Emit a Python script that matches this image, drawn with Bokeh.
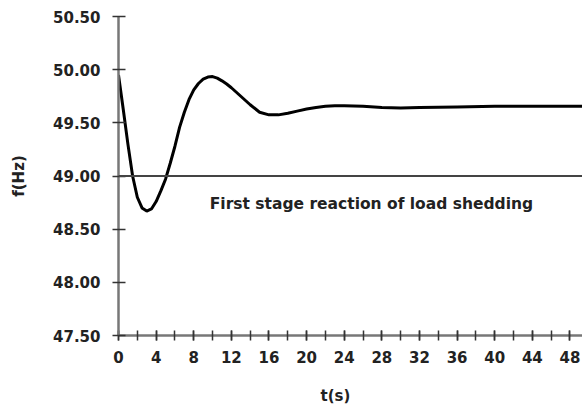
from bokeh.plotting import figure
from bokeh.models import Range1d, FixedTicker, Span, CustomJSTickFormatter, Title
from bokeh.core.properties import value
from bokeh.embed import file_html
from bokeh.resources import INLINE

# Data
t_s = [0, 0.5, 1, 1.5, 2, 2.5, 3, 3.5, 4, 4.5, 5, 5.5, 6, 6.5, 7, 7.5, 8, 8.5,
       9, 9.5, 10, 10.5, 11, 11.5, 12, 13, 14, 15, 16, 17, 18, 19, 20, 21, 22,
       23, 24, 26, 28, 30, 32, 36, 40, 44, 48, 50]
f_hz = [49.95, 49.63, 49.30, 49.00, 48.80, 48.70, 48.67, 48.69, 48.76, 48.86,
        48.97, 49.12, 49.28, 49.46, 49.60, 49.72, 49.81, 49.87, 49.91, 49.93,
        49.935, 49.92, 49.895, 49.865, 49.83, 49.75, 49.67, 49.60, 49.575, 49.575,
        49.59, 49.61, 49.63, 49.645, 49.655, 49.66, 49.66, 49.655, 49.645, 49.64,
        49.645, 49.65, 49.655, 49.655, 49.655, 49.655]
threshold = 49.0
note_text = ["First stage reaction of load shedding"]
note_x = [9.7]
note_y = [48.74]
x_ticks = [0, 4, 8, 12, 16, 20, 24, 28, 32, 36, 40, 44, 48]
x_minor = list(range(0, 50, 2))
y_ticks = [47.5, 48.0, 48.5, 49.0, 49.5, 50.0, 50.5]
x_title = "t(s)"
y_title = "f(Hz)"

FONT = "DejaVu Sans"
TXT = "#222222"

p = figure(width=582, height=410, output_backend="svg", toolbar_location=None,
           x_range=Range1d(0, 49.33), y_range=Range1d(47.5, 50.5),
           min_border_left=118, min_border_right=0, min_border_top=16,
           min_border_bottom=75)
p.outline_line_color = None
p.grid.visible = False
p.background_fill_color = "white"
p.border_fill_color = "white"

p.line(t_s, f_hz, line_color="black", line_width=3)
p.add_layout(Span(location=threshold, dimension="width", line_color="#444444",
                  line_width=2))
p.text(x=note_x, y=note_y, text=note_text, text_font=value(FONT),
       text_font_style="bold", text_font_size="15.5px", text_color=TXT,
       text_baseline="middle", text_align="left")

# x axis title, slightly left of the frame centre as in the reference
p.add_layout(Title(text=x_title, align="left", offset=202, standoff=12,
                   padding=dict(top=13, bottom=0, left=0, right=0),
                   text_font=FONT, text_font_style="bold",
                   text_font_size="15px", text_color=TXT), "below")

# x axis
xa = p.xaxis[0]
xa.ticker = FixedTicker(ticks=x_ticks, minor_ticks=x_minor)
xa.axis_line_color = "#777777"
xa.axis_line_width = 2.5
xa.major_tick_line_color = "#333333"
xa.minor_tick_line_color = "#333333"
xa.major_tick_line_width = 1.5
xa.minor_tick_line_width = 1.5
xa.major_tick_in = 5
xa.major_tick_out = 5
xa.minor_tick_in = 5
xa.minor_tick_out = 5
xa.major_label_standoff = 10

# y axis
ya = p.yaxis[0]
ya.ticker = FixedTicker(ticks=y_ticks, minor_ticks=[])
ya.formatter = CustomJSTickFormatter(code="return tick.toFixed(2);")
ya.axis_label = y_title
ya.axis_line_color = "#777777"
ya.axis_line_width = 2.5
ya.major_tick_line_color = "#333333"
ya.major_tick_line_width = 1.5
ya.major_tick_in = 7
ya.major_tick_out = 6
ya.minor_tick_in = 0
ya.minor_tick_out = 0
ya.major_label_standoff = 12
ya.axis_label_standoff = 22

for ax in (xa, ya):
    ax.major_label_text_font = FONT
    ax.major_label_text_font_style = "bold"
    ax.major_label_text_font_size = "15px"
    ax.major_label_text_color = TXT
    ax.axis_label_text_font = FONT
    ax.axis_label_text_font_style = "bold"
    ax.axis_label_text_font_size = "15px"
    ax.axis_label_text_color = TXT

open("out.html", "w").write(file_html(p, INLINE))
